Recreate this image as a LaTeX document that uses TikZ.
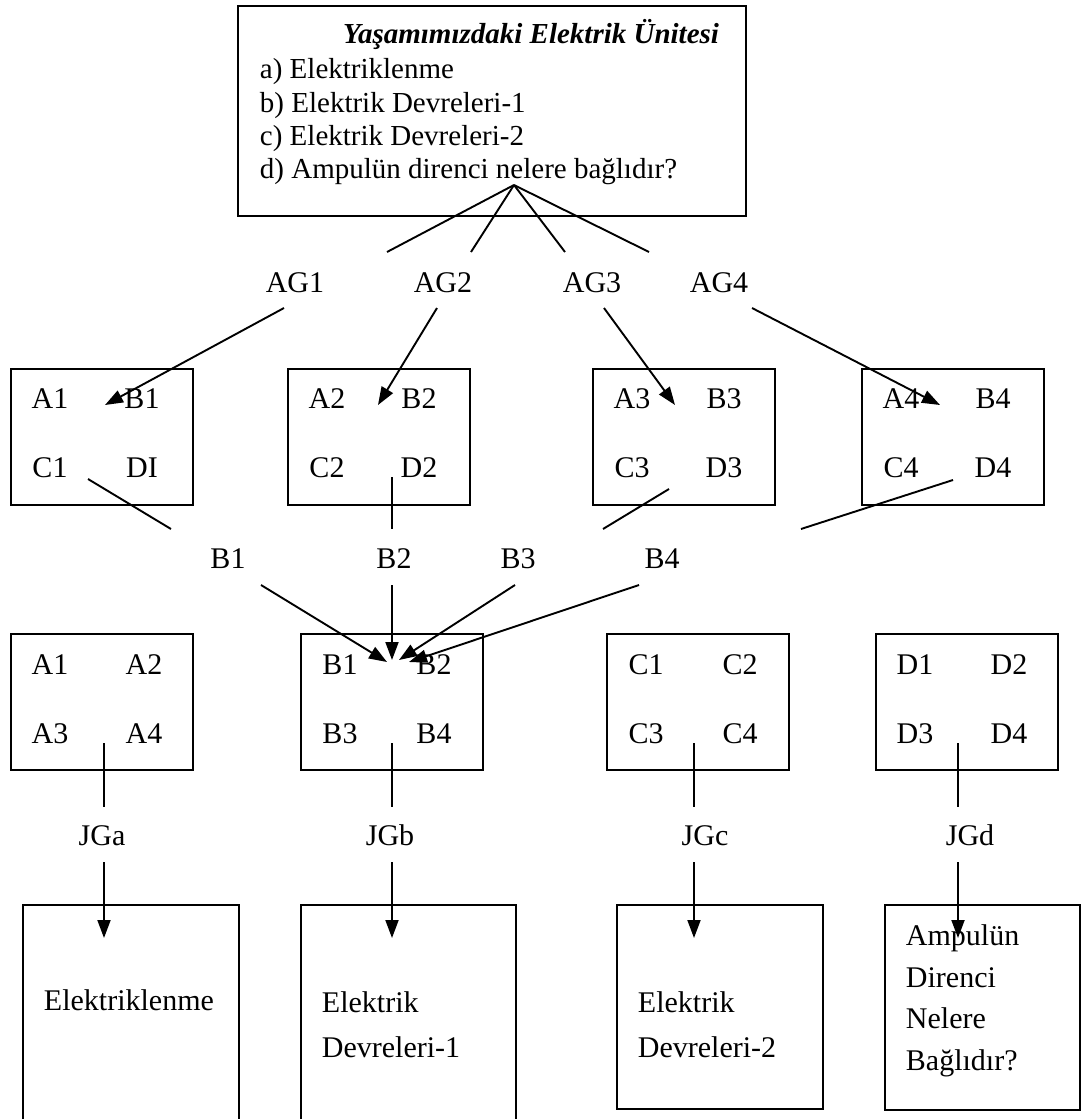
\documentclass[tikz,border=0pt]{standalone}
\usepackage{fontspec}
\setmainfont{Liberation Serif}
\usetikzlibrary{arrows.meta}

\begin{document}
\begin{tikzpicture}[x=1pt, y=-1pt, line width=1.9pt,
        every node/.style={font=\fontsize{30}{36}\selectfont, inner sep=0pt},
        scatola/.style={draw, minimum width=182pt, minimum height=136pt, anchor=north west},
        finale/.style={draw, anchor=north west},
        freccia/.style={-{Triangle[length=18pt, width=13pt]}}]
    \useasboundingbox (0,0) rectangle (1083,1119);

    % Riquadro dell'unita
    \node[draw, minimum width=508pt, minimum height=210pt, anchor=north west] (unita) at (237,5) {};
    \node[anchor=base, font=\fontsize{29}{34}\selectfont\bfseries\itshape] (titolo) at (531,43) {Yaşamımızdaki Elektrik Ünitesi};
    \foreach \nodename/\nodeposition/\testo in {la/78/a) Elektriklenme, lb/112/b) Elektrik Devreleri-1, lc/145/c) Elektrik Devreleri-2, ld/178/d) Ampulün direnci nelere bağlıdır?}
        \node[anchor=base west, font=\fontsize{29}{34}\selectfont] (\nodename) at (259,\nodeposition) {\testo};

    % Attivita AG
    \coordinate (vertice) at (514,185);
    \foreach \nodename/\nodeposition/\fine in {AG1/295/387, AG2/443/471, AG3/592/565, AG4/719/649} {
        \node[anchor=base] (\nodename) at (\nodeposition,292) {\nodename};
        \coordinate (v\nodename) at (\fine,252);
        \draw (vertice) -- (v\nodename);
    }

    % Prima riga di riquadri
    \foreach \nodename/\nodeposition/\ultimo in {1/10/DI, 2/287/D2, 3/592/D3, 4/861/D4} {
        \node[scatola] (p\nodename) at (\nodeposition,368) {};
        \node[anchor=base] (pA\nodename) at (\nodeposition+40,408) {A\nodename};
        \node[anchor=base] (pB\nodename) at (\nodeposition+132,408) {B\nodename};
        \node[anchor=base] (pC\nodename) at (\nodeposition+40,477) {C\nodename};
        \node[anchor=base] (pD\nodename) at (\nodeposition+132,477) {\ultimo};
    }

    % Frecce da AG
    \foreach \nodename/\inizio/\punta in {1/284/105, 2/437/378, 3/604/675, 4/752/940} {
        \coordinate (iAG\nodename) at (\inizio,308);
        \coordinate (fAG\nodename) at (\punta,405);
        \draw[freccia] (iAG\nodename) -- (fAG\nodename);
    }

    % Linee verso B
    \foreach \nodename/\inizio/\iy/\punta/\lab in {1/88/479/171/228, 2/392/477/392/394, 3/669/489/603/518, 4/953/480/801/662} {
        \coordinate (iB\nodename) at (\inizio,\iy);
        \coordinate (fB\nodename) at (\punta,529);
        \draw (iB\nodename) -- (fB\nodename);
        \node[anchor=base] (B\nodename) at (\lab,568) {B\nodename};
    }

    % Seconda riga di riquadri
    \foreach \nodename/\nodeposition in {A/10, B/300, C/606, D/875} {
        \node[scatola] (s\nodename) at (\nodeposition,633) {};
        \node[anchor=base] (s\nodename1) at (\nodeposition+40,674) {\nodename1};
        \node[anchor=base] (s\nodename2) at (\nodeposition+134,674) {\nodename2};
        \node[anchor=base] (s\nodename3) at (\nodeposition+40,743) {\nodename3};
        \node[anchor=base] (s\nodename4) at (\nodeposition+134,743) {\nodename4};
    }

    % Frecce da B
    \foreach \nodename/\inizio/\punta/\py in {1/261/387/662, 2/392/392/660, 3/515/399/660, 4/639/409/662} {
        \coordinate (iC\nodename) at (\inizio,585);
        \coordinate (fC\nodename) at (\punta,\py);
        \draw[freccia] (iC\nodename) -- (fC\nodename);
    }

    % Giudizi JG
    \foreach \nodename/\nodeposition/\lab in {a/104/102, b/392/390, c/694/705, d/958/970} {
        \coordinate (iJ\nodename) at (\nodeposition,743);
        \coordinate (fJ\nodename) at (\nodeposition,807);
        \draw (iJ\nodename) -- (fJ\nodename);
        \node[anchor=base] (JG\nodename) at (\lab,845) {JG\nodename};
        \coordinate (iK\nodename) at (\nodeposition,862);
        \coordinate (fK\nodename) at (\nodeposition,938);
        \draw[freccia] (iK\nodename) -- (fK\nodename);
    }

    % Riquadri finali
    \node[finale, minimum width=216pt, minimum height=240pt] (ua) at (22,904) {};
    \node[finale, minimum width=215pt, minimum height=240pt] (ub) at (300,904) {};
    \node[finale, minimum width=206pt, minimum height=204pt] (uc) at (616,904) {};
    \node[finale, minimum width=195pt, minimum height=205pt] (ud) at (884,904) {};
    \node[anchor=base west] (ta) at (43,1010) {Elektriklenme};
    \node[anchor=base west] (tb1) at (321,1012) {Elektrik};
    \node[anchor=base west] (tb2) at (321,1057) {Devreleri-1};
    \node[anchor=base west] (tc1) at (637,1012) {Elektrik};
    \node[anchor=base west] (tc2) at (637,1057) {Devreleri-2};
    \foreach \nodename/\nodeposition/\testo in {td1/945/Ampulün, td2/987/Direnci, td3/1028/Nelere, td4/1070/Bağlıdır?}
        \node[anchor=base west] (\nodename) at (905,\nodeposition) {\testo};
\end{tikzpicture}
\end{document}
